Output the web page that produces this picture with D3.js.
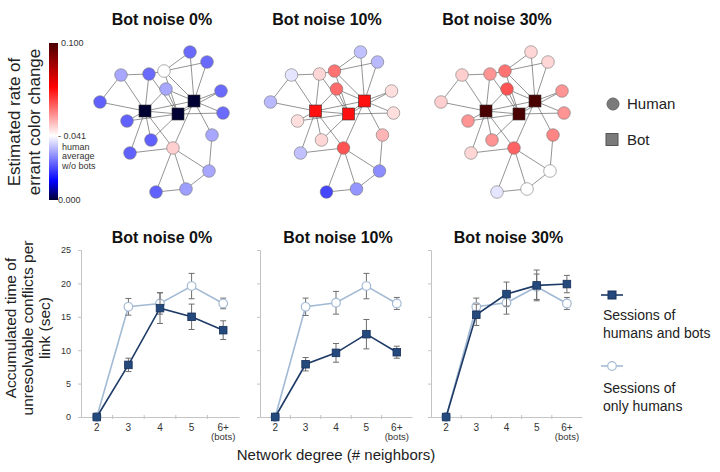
<!DOCTYPE html>
<html lang="en">
<head>
<meta charset="UTF-8">
<title>Bot noise networks and conflicts</title>
<style>
    body { margin: 0; padding: 0; background: #fff; }
    svg { display: block; font-family: "Liberation Sans", Arial, sans-serif; }
    .title { font-size: 16px; font-weight: bold; text-anchor: middle; fill: #111; }
    .lab { font-size: 14px; fill: #222; }
    .tick text { font-size: 9px; fill: #333; }
</style>
</head>
<body>
<svg width="720" height="472"></svg>
<script src="https://d3js.org/d3.v7.min.js"></script>
<script>
    // ---- data ----
    const noiseLabels = ["Bot noise 0%", "Bot noise 10%", "Bot noise 30%"];
    const degrees = ["2", "3", "4", "5", "6+"];
    const yTicks = [0, 5, 10, 15, 20, 25];

    // sessions of humans and bots
    const mixedMean = [[0, 7.8, 16.3, 15.0, 13.0], [0, 7.9, 9.6, 12.4, 9.7], [0, 15.3, 18.4, 19.7, 19.9]];
    const mixedErr = [[0, 1.0, 2.3, 1.9, 1.4], [0, 1.0, 1.4, 2.2, 0.9], [0, 1.6, 1.8, 2.3, 1.3]];
    // sessions of only humans
    const humanMean = [[0, 16.5, 17.0, 19.6, 17.0], [0, 16.5, 17.1, 19.6, 17.0], [0, 16.5, 17.1, 19.5, 17.0]];
    const humanErr = [[0, 1.25, 1.6, 1.9, 0.8], [0, 1.3, 1.7, 1.9, 0.9], [0, 1.3, 1.7, 1.9, 0.9]];

    // network layout (same graph in each panel), layout units
    const nodeX = [95, 112, 69, 26, 54, 71, 126, 5, 50, 83, 99, 128, 32, 56, 117, 35, 78, 114, 61, 91];
    const nodeY = [4, 14, 23, 27, 26, 41, 43, 54, 63, 66, 53, 65, 73, 92, 87, 105, 100, 123, 144, 141];
    const nodeIsBot = [0, 0, 0, 0, 0, 0, 0, 0, 1, 1, 1, 0, 0, 0, 0, 0, 0, 0, 0, 0];
    const edges = [
        [0, 2], [1, 2], [3, 4], [4, 2], [3, 7], [3, 8], [4, 8], [4, 9], [2, 9], [2, 10],
        [0, 10], [1, 10], [5, 8], [5, 9], [5, 10], [6, 10], [11, 10], [7, 8], [8, 9], [8, 10],
        [9, 10], [9, 11], [12, 8], [12, 9], [13, 8], [13, 9], [15, 8], [15, 16], [16, 8], [16, 10],
        [14, 10], [14, 17], [16, 17], [16, 18], [16, 19], [17, 19], [18, 19], [6, 9]
    ];
    // estimated rate of errant color change per node, one row per panel
    const nodeRate = [
        [0.024, 0.024, 0.041, 0.031, 0.024, 0.031, 0.024, 0.023, 0, 0, 0, 0.024, 0.023, 0.023, 0.031, 0.023, 0.047, 0.031, 0.023, 0.030],
        [0.034, 0.033, 0.058, 0.038, 0.046, 0.059, 0.045, 0.033, 0.07, 0.07, 0.07, 0.045, 0.045, 0.046, 0.050, 0.034, 0.062, 0.028, 0.020, 0.029],
        [0.046, 0.046, 0.058, 0.047, 0.054, 0.062, 0.054, 0.047, 0.1, 0.1, 0.1, 0.054, 0.054, 0.054, 0.056, 0.046, 0.060, 0.041, 0.038, 0.041]
    ];
    const colorStops = [0, 0.012, 0.041, 0.072, 0.1];
    const colorRange = ["#000033", "#0000ff", "#ffffff", "#ff0000", "#4a0000"];

    const svg = d3.select("svg");
    const color = d3.scaleLinear().domain(colorStops).range(colorRange);

    // ---- top row: networks ----
    const netTitleX = [162, 327, 497];
    noiseLabels.forEach((t, p) => {
        svg.append("text").attr("class", "title").attr("x", netTitleX[p]).attr("y", 25).text(t);

        const ox = 95 + p * 170.5;
        const nx = d3.scaleLinear().domain([0, 130]).range([ox, ox + 130]);
        const ny = d3.scaleLinear().domain([0, 145]).range([48, 193]);
        const g = svg.append("g");

        g.selectAll("line").data(edges).enter().append("line")
            .attr("x1", d => nx(nodeX[d[0]])).attr("y1", d => ny(nodeY[d[0]]))
            .attr("x2", d => nx(nodeX[d[1]])).attr("y2", d => ny(nodeY[d[1]]))
            .attr("stroke", "#666").attr("stroke-width", 0.7);

        const idx = d3.range(nodeX.length);
        g.selectAll("circle").data(idx.filter(i => !nodeIsBot[i])).enter().append("circle")
            .attr("cx", i => nx(nodeX[i])).attr("cy", i => ny(nodeY[i])).attr("r", 6.3)
            .attr("fill", i => color(nodeRate[p][i]))
            .attr("stroke", "#777").attr("stroke-width", 0.6);
        g.selectAll("rect").data(idx.filter(i => nodeIsBot[i])).enter().append("rect")
            .attr("x", i => nx(nodeX[i]) - 6).attr("y", i => ny(nodeY[i]) - 6)
            .attr("width", 12).attr("height", 12)
            .attr("fill", i => color(nodeRate[p][i]))
            .attr("stroke", "#333").attr("stroke-width", 0.6);
    });

    // colorbar
    const defs = svg.append("defs");
    const grad = defs.append("linearGradient").attr("id", "cbar")
        .attr("x1", 0).attr("y1", 1).attr("x2", 0).attr("y2", 0);
    colorStops.forEach((s, i) => {
        grad.append("stop").attr("offset", s / 0.1).attr("stop-color", colorRange[i]);
    });
    const cb = d3.scaleLinear().domain([0, 0.1]).range([200, 43]);
    svg.append("rect").attr("x", 49).attr("y", cb(0.1)).attr("width", 9)
        .attr("height", cb(0) - cb(0.1)).attr("fill", "url(#cbar)");
    const cbText = svg.append("g").style("font-size", "9px").attr("fill", "#333");
    cbText.append("text").attr("x", 61).attr("y", cb(0.1) + 3).text("0.100");
    cbText.append("text").attr("x", 58).attr("y", cb(0) + 3).text("0.000");
    cbText.append("text").attr("x", 58).attr("y", cb(0.041) + 3).text("- 0.041");
    ["human", "average", "w/o bots"].forEach((t, i) => {
        cbText.append("text").attr("x", 62).attr("y", cb(0.041) + 14 + i * 9.5).text(t);
    });

    // top y label
    const topLab = svg.append("text").attr("class", "lab").style("font-size", "17px")
        .attr("text-anchor", "middle")
        .attr("transform", "translate(20,122) rotate(-90)");
    topLab.append("tspan").attr("x", 0).attr("dy", 0).text("Estimated rate of");
    topLab.append("tspan").attr("x", 0).attr("dy", 20).text("errant color change");

    // network legend
    svg.append("circle").attr("cx", 613).attr("cy", 104).attr("r", 6).attr("fill", "#7a7a7a").attr("stroke", "#666");
    svg.append("text").attr("class", "lab").style("font-size", "15px").attr("x", 627).attr("y", 109).text("Human");
    svg.append("rect").attr("x", 606).attr("y", 133.5).attr("width", 12).attr("height", 12)
        .attr("fill", "#7a7a7a").attr("stroke", "#555");
    svg.append("text").attr("class", "lab").style("font-size", "15px").attr("x", 627).attr("y", 145).text("Bot");

    // ---- bottom row: line charts ----
    const y = d3.scaleLinear().domain([0, 25]).range([417, 250]);
    const panelX = [[81, 239], [260, 412], [431, 582]];
    const darkC = "#1e3a66", lightC = "#a3bad4";

    noiseLabels.forEach((t, p) => {
        const x = d3.scaleBand().domain(degrees).range(panelX[p]);
        const cx = d => x(d) + x.bandwidth() / 2;
        const g = svg.append("g");

        svg.append("text").attr("class", "title")
            .attr("x", (panelX[p][0] + panelX[p][1]) / 2 + 2).attr("y", 243).text(t);

        // y axis
        const ya = g.append("g").attr("transform", `translate(${panelX[p][0]},0)`)
            .call(d3.axisLeft(y).tickValues(yTicks).tickSize(3).tickFormat(p === 0 ? d3.format("d") : ""));
        ya.select(".domain").attr("stroke", "#c4c4c4");
        ya.selectAll(".tick line").attr("stroke", "#c4c4c4");
        ya.selectAll(".tick text").attr("dx", "-4px");

        // x axis, ticks at category boundaries
        const xa = g.append("g").attr("transform", `translate(0,${y(0)})`)
            .call(d3.axisBottom(x).tickSize(0).tickSizeOuter(0));
        xa.select(".domain").attr("stroke", "#c4c4c4");
        xa.selectAll(".tick text").attr("dy", "1.1em").style("font-size", "10px");
        xa.selectAll(".tick").filter(d => d === "6+").append("text")
            .attr("y", 13).attr("dy", "1.1em").attr("fill", "#333")
            .style("font-size", "9.5px").text("(bots)");
        g.selectAll(".xb").data(degrees.slice(1)).enter().append("line")
            .attr("x1", d => x(d)).attr("x2", d => x(d))
            .attr("y1", y(0) - 2).attr("y2", y(0) + 2).attr("stroke", "#c4c4c4");

        const series = [
            { mean: humanMean[p], err: humanErr[p], c: lightC, bot: false },
            { mean: mixedMean[p], err: mixedErr[p], c: darkC, bot: true }
        ];
        series.forEach(s => {
            const pts = degrees.map((d, i) => ({ d, v: s.mean[i], e: s.err[i] }));
            g.append("path").datum(pts)
                .attr("d", d3.line().x(q => cx(q.d)).y(q => y(q.v)))
                .attr("fill", "none").attr("stroke", s.c).attr("stroke-width", 1.6);

            const eb = g.selectAll(null).data(pts.filter(q => q.e > 0)).enter().append("g")
                .attr("stroke", "#6e6e6e").attr("stroke-width", 1);
            eb.append("line").attr("x1", q => cx(q.d)).attr("x2", q => cx(q.d))
                .attr("y1", q => y(q.v - q.e)).attr("y2", q => y(q.v + q.e));
            eb.append("line").attr("x1", q => cx(q.d) - 3).attr("x2", q => cx(q.d) + 3)
                .attr("y1", q => y(q.v + q.e)).attr("y2", q => y(q.v + q.e));
            eb.append("line").attr("x1", q => cx(q.d) - 3).attr("x2", q => cx(q.d) + 3)
                .attr("y1", q => y(q.v - q.e)).attr("y2", q => y(q.v - q.e));

            if (s.bot) {
                g.selectAll(null).data(pts).enter().append("rect")
                    .attr("x", q => cx(q.d) - 3.8).attr("y", q => y(q.v) - 3.8)
                    .attr("width", 7.6).attr("height", 7.6)
                    .attr("fill", "#23497d").attr("stroke", "#18305a").attr("stroke-width", 0.8);
            } else {
                g.selectAll(null).data(pts).enter().append("circle")
                    .attr("cx", q => cx(q.d)).attr("cy", q => y(q.v)).attr("r", 4.3)
                    .attr("fill", "#fff").attr("stroke", lightC).attr("stroke-width", 1.2);
            }
        });
    });

    // bottom y label
    const botLab = svg.append("text").attr("class", "lab").style("font-size", "15.5px")
        .attr("text-anchor", "middle")
        .attr("transform", "translate(16,328) rotate(-90)");
    ["Accumulated time of", "unresolvable conflicts per", "link (sec)"].forEach((t, i) => {
        botLab.append("tspan").attr("x", 0).attr("dy", i === 0 ? 0 : 17).text(t);
    });

    // x label
    svg.append("text").attr("class", "lab").style("font-size", "15px").attr("text-anchor", "middle")
        .attr("x", 336).attr("y", 460).text("Network degree (# neighbors)");

    // line legend
    const lg = svg.append("g");
    lg.append("line").attr("x1", 601).attr("x2", 623).attr("y1", 295).attr("y2", 295)
        .attr("stroke", darkC).attr("stroke-width", 1.6);
    lg.append("rect").attr("x", 608).attr("y", 291).attr("width", 8).attr("height", 8)
        .attr("fill", "#23497d").attr("stroke", "#18305a");
    lg.append("line").attr("x1", 601).attr("x2", 623).attr("y1", 366).attr("y2", 366)
        .attr("stroke", lightC).attr("stroke-width", 1.6);
    lg.append("circle").attr("cx", 612).attr("cy", 366).attr("r", 4.3)
        .attr("fill", "#fff").attr("stroke", lightC).attr("stroke-width", 1.2);
    [["Sessions of", 320], ["humans and bots", 338], ["Sessions of", 393], ["only humans", 411]].forEach(d => {
        lg.append("text").attr("class", "lab").attr("x", 603).attr("y", d[1]).text(d[0]);
    });
</script>
</body>
</html>
